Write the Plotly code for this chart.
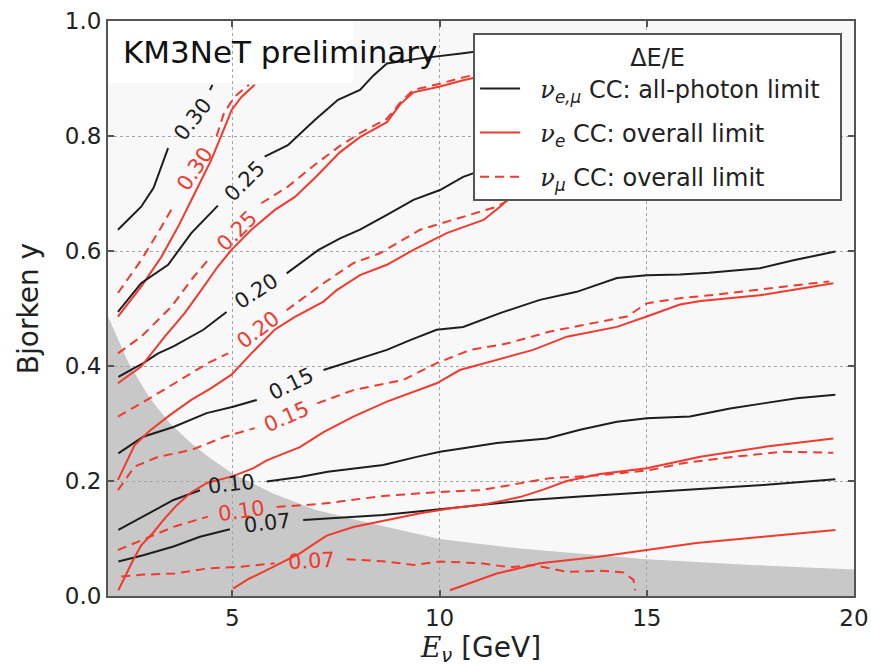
import plotly.graph_objects as go

# ---------------- data ----------------
# black: nu_e,mu CC all-photon limit contours (None = gap where the inline label sits)
b30_x = [2.24, 2.80, 3.10, 3.45, None, 4.46, 4.52]
b30_y = [0.637, 0.677, 0.710, 0.779, None, 0.880, 0.889]
b25_x = [2.24, 2.80, 3.45, 4.01, 4.65, None, 5.78, 6.34, 6.99, 7.55, 8.08, 8.40, 8.73, 9.53, 10.57, 11.2]
b25_y = [0.494, 0.544, 0.576, 0.631, 0.679, None, 0.764, 0.784, 0.828, 0.863, 0.880, 0.905, 0.926, 0.935, 0.944, 0.950]
b20_x = [2.25, 2.85, 3.21, 3.58, 4.30, 4.62, 4.86, None, 6.31, 7.08, 7.60, 8.08, 8.73, 9.37, 10.01, 10.57, 11.2]
b20_y = [0.381, 0.405, 0.422, 0.434, 0.463, 0.480, 0.494, None, 0.561, 0.602, 0.622, 0.637, 0.663, 0.689, 0.706, 0.729, 0.745]
b15_x = [2.25, 2.85, 3.58, 4.38, 5.02, 5.59, None, 7.20, 7.92, 8.73, 9.29, 9.93, 10.57, 11.46, 12.42, 13.31, 14.28, 15.0, 15.80, 16.5, 17.73, 18.54, 19.55]
b15_y = [0.248, 0.277, 0.294, 0.318, 0.329, 0.341, None, 0.393, 0.410, 0.428, 0.445, 0.463, 0.468, 0.492, 0.515, 0.529, 0.553, 0.558, 0.559, 0.562, 0.570, 0.584, 0.599]
b10_x = [2.25, 2.85, 3.58, 4.22, None, 5.83, 6.63, 7.30, 8.64, 9.45, 10.01, 10.57, 11.38, 12.59, 13.39, 14.28, 15.0, 16.04, 17.01, 17.81, 18.62, 19.55]
b10_y = [0.115, 0.138, 0.167, 0.184, None, 0.199, 0.207, 0.216, 0.228, 0.242, 0.251, 0.257, 0.266, 0.274, 0.289, 0.303, 0.309, 0.312, 0.326, 0.335, 0.344, 0.350]
b07_x = [2.25, 2.85, 3.58, 4.22, 4.94, None, 6.71, 7.44, 8.64, 10.01, 10.98, 12.18, 13.39, 15.0, 16.2, 17.81, 19.55]
b07_y = [0.060, 0.071, 0.086, 0.103, 0.116, None, 0.132, 0.135, 0.141, 0.151, 0.158, 0.167, 0.173, 0.180, 0.186, 0.193, 0.203]

# red solid: nu_e CC overall limit contours
r30_x = [2.24, 2.80, 3.29, 3.69, 4.09, 4.49, 4.82, 4.98, 5.22, 5.54]
r30_y = [0.486, 0.538, 0.590, 0.642, 0.700, 0.758, 0.816, 0.845, 0.868, 0.889]
r25_x = [2.24, 2.80, 3.37, 3.85, 4.25, 4.65, 4.98, 5.46, 6.02, 6.51, 6.99, 7.60, 8.08, 8.73, 9.05, 9.37, 10.01, 10.57, 11.2]
r25_y = [0.370, 0.399, 0.451, 0.492, 0.532, 0.573, 0.602, 0.637, 0.671, 0.694, 0.727, 0.772, 0.798, 0.824, 0.855, 0.876, 0.886, 0.897, 0.907]
r20_x = [2.24, 2.64, 3.00, 3.50, 4.01, 4.50, 4.98, 5.46, 6.02, 6.50, 7.20, 7.52, 8.08, 8.73, 9.37, 10.17, 11.06, 11.46, 11.8]
r20_y = [0.202, 0.262, 0.287, 0.315, 0.341, 0.362, 0.385, 0.422, 0.463, 0.485, 0.512, 0.532, 0.558, 0.576, 0.602, 0.631, 0.654, 0.677, 0.700]
r15_x = [2.25, 2.45, 2.61, 2.80, 3.09, 3.37, 3.66, 4.00, 4.40, 5.00, 5.50, 5.83, 6.63, 7.20, 7.92, 8.73, 9.93, 10.49, 11.46, 12.26, 13.07, 14.28, 15.0, 15.8, 16.3, 17.73, 19.5]
r15_y = [0.010, 0.040, 0.063, 0.088, 0.110, 0.135, 0.158, 0.180, 0.197, 0.208, 0.222, 0.236, 0.259, 0.285, 0.312, 0.338, 0.370, 0.393, 0.412, 0.428, 0.451, 0.468, 0.486, 0.507, 0.513, 0.523, 0.544]
r10_x = [5.02, 5.40, 5.83, 6.63, 7.00, 7.28, 7.92, 8.72, 9.53, 10.33, 11.14, 11.94, 12.50, 13.07, 13.87, 15.0, 16.29, 17.89, 19.5]
r10_y = [0.013, 0.030, 0.045, 0.074, 0.092, 0.105, 0.120, 0.132, 0.144, 0.153, 0.160, 0.172, 0.185, 0.200, 0.212, 0.222, 0.242, 0.260, 0.274]
r07_x = [10.25, 11.38, 12.42, 13.79, 15.0, 16.20, 17.81, 19.55]
r07_y = [0.010, 0.039, 0.057, 0.068, 0.080, 0.092, 0.103, 0.115]

# red dashed: nu_mu CC overall limit contours
d30_x = [2.24, 2.80, 3.29, 3.55, None, 4.62, 4.80, 5.05, 5.40]
d30_y = [0.527, 0.584, 0.642, 0.675, None, 0.800, 0.840, 0.868, 0.889]
d25_x = [2.24, 2.80, 3.53, 4.01, 4.41, None, 5.70, 6.34, 6.99, 7.58, 8.08, 8.73, 9.05, 9.37, 10.01, 10.57, 11.2]
d25_y = [0.422, 0.451, 0.503, 0.550, 0.584, None, 0.683, 0.712, 0.750, 0.782, 0.805, 0.830, 0.858, 0.880, 0.891, 0.902, 0.912]
d20_x = [2.24, 2.80, 3.61, 4.41, 4.90, None, 6.31, 7.20, 7.92, 8.56, 9.53, 10.33, 10.90, 11.38, 11.7]
d20_y = [0.312, 0.335, 0.370, 0.405, 0.422, None, 0.497, 0.544, 0.579, 0.596, 0.637, 0.654, 0.666, 0.677, 0.690]
d15_x = [2.24, 2.64, 3.21, 4.01, 4.82, 5.54, None, 7.05, 7.92, 9.13, 9.93, 10.74, 11.62, 12.67, 13.87, 14.52, 15.0, 15.80, 16.53, 19.4]
d15_y = [0.184, 0.225, 0.242, 0.254, 0.277, 0.292, None, 0.335, 0.358, 0.376, 0.405, 0.428, 0.439, 0.460, 0.477, 0.486, 0.509, 0.518, 0.523, 0.547]
d10_x = [2.24, 2.80, 3.61, 4.41, None, 6.07, 7.12, 8.64, 10.01, 10.98, 11.78, 12.67, 13.87, 15.08, 15.88, 17.09, 18.30, 19.5]
d10_y = [0.080, 0.097, 0.121, 0.138, None, 0.155, 0.160, 0.174, 0.181, 0.184, 0.194, 0.205, 0.210, 0.219, 0.231, 0.242, 0.251, 0.249]
d07_x = [2.32, 2.80, 3.61, 4.41, 5.22, 6.02, None, 7.76, 8.72, 9.37, 10.01, 10.98, 11.70, 12.26, 13.07, 13.87, 14.44, 14.68, 14.72]
d07_y = [0.034, 0.037, 0.039, 0.048, 0.051, 0.057, None, 0.064, 0.060, 0.054, 0.060, 0.057, 0.050, 0.054, 0.042, 0.044, 0.041, 0.028, 0.010]

# inline contour labels: text, x, y, angle
black_labels = [("0.30", 4.05, 0.830, -52), ("0.25", 5.30, 0.722, -45), ("0.20", 5.59, 0.530, -33),
                ("0.15", 6.42, 0.368, -26), ("0.10", 4.98, 0.194, -6), ("0.07", 5.86, 0.127, -6)]
red_labels = [("0.30", 4.10, 0.742, -56), ("0.25", 5.12, 0.634, -45), ("0.20", 5.62, 0.462, -37),
              ("0.15", 6.30, 0.312, -24), ("0.10", 5.23, 0.147, -8), ("0.07", 6.92, 0.061, -3)]

# grey region (lower boundary of accessible region)
shade_x = [2.0, 2.5, 3.0, 3.5, 4.0, 4.5, 5.0, 6.0, 7.0, 8.0, 10.0, 12.0, 15.0, 17.5, 20.0]
shade_y = [0.486, 0.405, 0.345, 0.300, 0.266, 0.238, 0.213, 0.178, 0.150, 0.132, 0.099, 0.082, 0.064, 0.054, 0.046]
# white (no-data) box top left
white_x = [2.0, 7.91]
white_y = [0.892, 1.0]

x_ticks = [5, 10, 15, 20]
y_ticks = [0.0, 0.2, 0.4, 0.6, 0.8, 1.0]

# ---------------- figure ----------------
BLACK = '#1e1e1e'
RED = '#f03a2e'
FONT = 'DejaVu Sans'
fig = go.Figure()

def add(x, y, color, dash, name=None, group=None, show=False):
    fig.add_trace(go.Scatter(x=x, y=y, mode='lines', connectgaps=False,
                             line=dict(color=color, width=2, dash=dash),
                             name=name, legendgroup=group, showlegend=show, hoverinfo='skip'))

SP = '\u00a0'
nu = "<span style='font-family:DejaVu Serif'><i>ν</i></span>"
add(b30_x, b30_y, BLACK, 'solid', SP * 2 + nu + "<sub><i>e,μ</i></sub> CC: all-photon limit" + SP * 2, 'a', True)
add(r30_x, r30_y, RED, 'solid', SP * 2 + nu + "<sub><i>e</i></sub> CC: overall limit", 'b', True)
add(d30_x, d30_y, RED, '9px,6px', SP * 2 + nu + "<sub><i>μ</i></sub> CC: overall limit", 'c', True)
for xs, ys in [(b25_x, b25_y), (b20_x, b20_y), (b15_x, b15_y), (b10_x, b10_y), (b07_x, b07_y)]:
    add(xs, ys, BLACK, 'solid', group='a')
for xs, ys in [(r25_x, r25_y), (r20_x, r20_y), (r15_x, r15_y), (r10_x, r10_y), (r07_x, r07_y)]:
    add(xs, ys, RED, 'solid', group='b')
for xs, ys in [(d25_x, d25_y), (d20_x, d20_y), (d15_x, d15_y), (d10_x, d10_y), (d07_x, d07_y)]:
    add(xs, ys, RED, '9px,6px', group='c')

annotations = []
for txt, x, y, a in black_labels:
    annotations.append(dict(text=txt, x=x, y=y, xref='x', yref='y', showarrow=False, textangle=a,
                            font=dict(size=21, color=BLACK, family=FONT)))
for txt, x, y, a in red_labels:
    annotations.append(dict(text=txt, x=x, y=y, xref='x', yref='y', showarrow=False, textangle=a,
                            font=dict(size=21, color=RED, family=FONT)))
annotations.append(dict(text='KM3NeT preliminary', x=0.018, y=0.946, xref='paper', yref='paper',
                        xanchor='left', yanchor='middle', showarrow=False,
                        font=dict(size=31, color='#111', family=FONT)))

path = 'M ' + ' L '.join(f'{x},{y}' for x, y in zip(shade_x, shade_y))
path += f' L {shade_x[-1]},0 L {shade_x[0]},0 Z'
shapes = [
    dict(type='path', path=path, xref='x', yref='y', fillcolor='#c8c8c8', line=dict(width=0), layer='below'),
    dict(type='rect', x0=white_x[0], x1=white_x[1], y0=white_y[0], y1=white_y[1], xref='x', yref='y',
         fillcolor='white', line=dict(width=0), layer='below'),
]

axis_common = dict(ticks='inside', ticklen=6, tickwidth=1.5, tickcolor='#555', showline=True, linecolor='#555',
                   linewidth=2, mirror='ticks', showgrid=True, gridcolor='#a4a4a4', griddash='dot',
                   gridwidth=1, zeroline=False, tickfont=dict(size=23, family=FONT, color='#222'))

fig.update_layout(
    width=871, height=669,
    margin=dict(l=108, r=17, t=21, b=73, autoexpand=False),
    paper_bgcolor='white', plot_bgcolor='#f8f8f8',
    font=dict(family=FONT, color='#222'),
    xaxis=dict(range=[2, 20], tickvals=x_ticks, ticktext=[str(v) for v in x_ticks],
               title=dict(text="<span style='font-family:DejaVu Serif'><i>E</i></span><sub><i>ν</i></sub> [GeV]",
                          font=dict(size=28, family=FONT), standoff=4),
               **axis_common),
    yaxis=dict(range=[0, 1], tickvals=y_ticks, ticktext=[f'{v:.1f}' for v in y_ticks],
               title=dict(text='Bjorken y', font=dict(size=28, family=FONT), standoff=18),
               **axis_common),
    legend=dict(x=0.984, y=0.979, xanchor='right', yanchor='top', bgcolor='white', bordercolor='#555',
                borderwidth=2, font=dict(size=24, family=FONT, color='#222'),
                title=dict(text='ΔE/E', side='top center', font=dict(size=24, family=FONT)),
                itemwidth=40, traceorder='grouped', tracegroupgap=10),
    annotations=annotations, shapes=shapes,
)

fig.write_html('out.html')
